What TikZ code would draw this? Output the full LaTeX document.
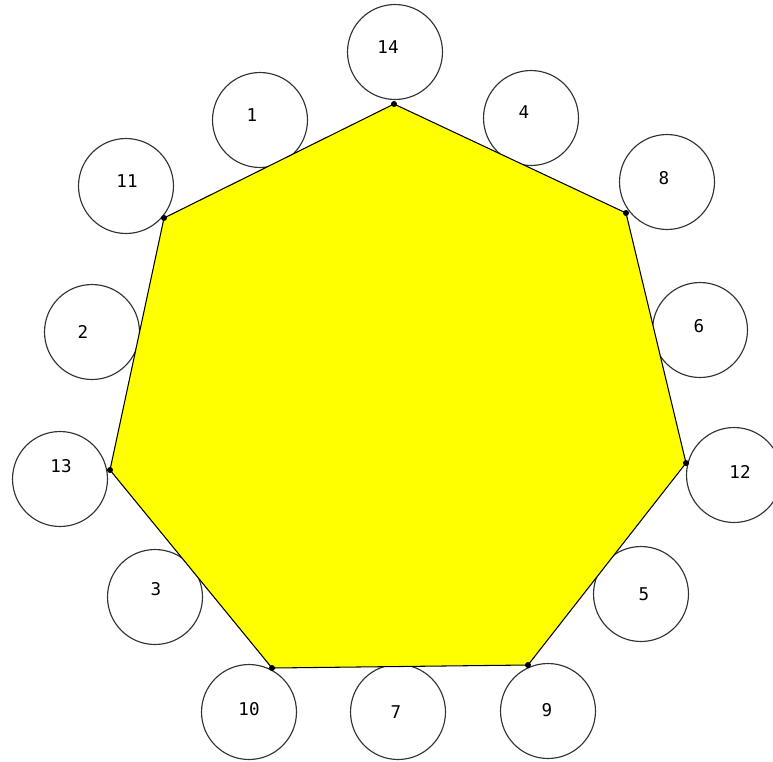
\documentclass[tikz,border=0pt]{standalone}
\usepackage{fontspec}
\setmonofont{DejaVu Sans Mono}
\usepackage{tikz}
\usetikzlibrary{positioning}
\definecolor{faceyellow}{RGB}{255,255,0}

\begin{document}
\begin{tikzpicture}[x=0.02cm, y=-0.02cm,
  ring/.style={circle, draw=black!80, line width=0.65pt, fill=white,
               minimum size=1.9cm, inner sep=0pt},
  num/.style={font=\ttfamily\fontsize{10}{12}\selectfont, inner sep=0pt},
  vdot/.style={circle, fill=black, inner sep=0pt, minimum size=0.12cm},
  face/.style={fill=faceyellow, draw=black, line width=0.6pt, line join=miter}]
  \useasboundingbox (0,0) rectangle (773,761);
  % heptagon corners
  \coordinate (v14) at (394,104);
  \coordinate (v8)  at (626,213);
  \coordinate (v12) at (686,463);
  \coordinate (v9)  at (528,665);
  \coordinate (v10) at (272,668);
  \coordinate (v13) at (110,470);
  \coordinate (v11) at (164,218);
  % circles first, so the yellow face sits over their rims
  \node[ring] (c14) at (395,52) {};
  \node[ring] (c1)  at (260,120) {};
  \node[ring] (c4)  at (531,118) {};
  \node[ring] (c11) at (126,186) {};
  \node[ring] (c8)  at (667,182) {};
  \node[ring] (c2)  at (92,332) {};
  \node[ring] (c6)  at (700,330) {};
  \node[ring] (c13) at (60,479) {};
  \node[ring] (c12) at (734,475) {};
  \node[ring] (c3)  at (155,597) {};
  \node[ring] (c5)  at (641,594) {};
  \node[ring] (c10) at (249,712) {};
  \node[ring] (c7)  at (398,712) {};
  \node[ring] (c9)  at (548,711) {};
  % the yellow face
  \draw[face] (v14) -- (v8) -- (v12) -- (v9) -- (v10) -- (v13) -- (v11) -- cycle;
  \foreach \v in {v14,v8,v12,v9,v10,v13,v11}
    \node[vdot] at (\v) {};
  % numbers, a little off the circle centres as in the figure
  \node[num] (l14) at (388,47) {14};
  \node[num] (l1)  at (252,115) {1};
  \node[num] (l4)  at (524,112) {4};
  \node[num] (l11) at (127,181) {11};
  \node[num] (l8)  at (664,178) {8};
  \node[num] (l2)  at (83,332) {2};
  \node[num] (l6)  at (699,326) {6};
  \node[num] (l13) at (61,466) {13};
  \node[num] (l12) at (740,472) {12};
  \node[num] (l3)  at (156,589) {3};
  \node[num] (l5)  at (644,594) {5};
  \node[num] (l10) at (249,709) {10};
  \node[num] (l7)  at (396,712) {7};
  \node[num] (l9)  at (547,710) {9};
\end{tikzpicture}
\end{document}
